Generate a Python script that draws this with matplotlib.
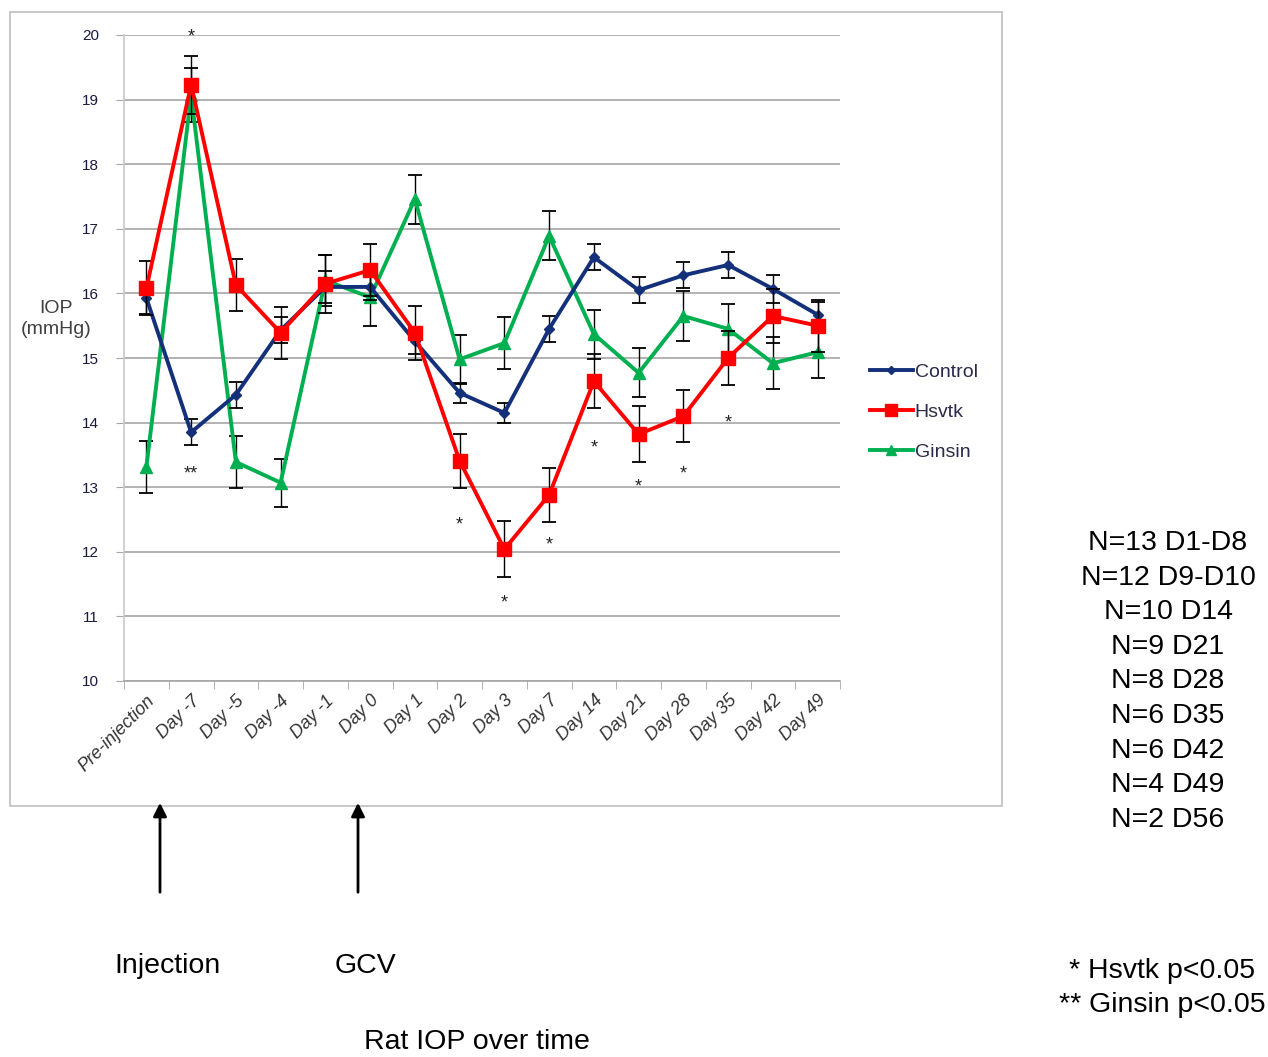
import matplotlib
matplotlib.use('Agg')
import matplotlib.pyplot as plt
from matplotlib.patches import Rectangle, FancyArrowPatch
from matplotlib.lines import Line2D
import numpy as np

# ---- data ----
days = ['Pre-injection', 'Day -7', 'Day -5', 'Day -4', 'Day -1', 'Day 0', 'Day 1', 'Day 2',
        'Day 3', 'Day 7', 'Day 14', 'Day 21', 'Day 28', 'Day 35', 'Day 42', 'Day 49']

control = [15.93, 13.85, 14.43, 15.43, 16.10, 16.10, 15.26, 14.46,
           14.15, 15.45, 16.56, 16.05, 16.28, 16.44, 16.07, 15.67]
control_err = [0.25, 0.2, 0.2, 0.2, 0.25, 0.2, 0.2, 0.15,
               0.15, 0.2, 0.2, 0.2, 0.2, 0.2, 0.22, 0.2]

hsvtk = [16.08, 19.23, 16.13, 15.39, 16.15, 16.36, 15.39, 13.41,
         12.04, 12.88, 14.64, 13.82, 14.10, 15.00, 15.65, 15.50]
hsvtk_err = [0.42, 0.45, 0.4, 0.4, 0.45, 0.4, 0.42, 0.42,
             0.43, 0.42, 0.42, 0.43, 0.4, 0.42, 0.42, 0.4]

ginsin = [13.31, 19.07, 13.39, 13.07, 16.20, 15.94, 17.46, 14.98,
          15.23, 16.89, 15.37, 14.77, 15.65, 15.45, 14.92, 15.09]
ginsin_err = [0.4, 0.42, 0.4, 0.37, 0.4, 0.45, 0.38, 0.38,
              0.4, 0.38, 0.38, 0.38, 0.38, 0.38, 0.4, 0.4]

# significance marks: (category index, y value, text)
stars = [(1, 19.97, '*'), (1, 13.2, '**'), (7, 12.42, '*'), (8, 11.2, '*'), (9, 12.1, '*'),
         (10, 13.6, '*'), (11, 13.0, '*'), (12, 13.2, '*'), (13, 14.0, '*')]

n_lines = ['N=13 D1-D8', 'N=12 D9-D10', 'N=10 D14', 'N=9 D21', 'N=8 D28',
           'N=6 D35', 'N=6 D42', 'N=4 D49', 'N=2 D56']

# ---- plotting ----
plt.rcParams['font.family'] = ['Liberation Sans', 'DejaVu Sans']

W, H = 1268, 1057
fig = plt.figure(figsize=(W / 100, H / 100), dpi=100)

# chart frame
fig.patches.append(Rectangle((10 / W, 1 - 806 / H), 992 / W, 794 / H, transform=fig.transFigure,
                             fill=False, edgecolor='#bfbfbf', linewidth=1.2))

ax = fig.add_axes([124 / W, 1 - 681 / H, 716 / W, 646 / H])
x = np.arange(len(days))

series = [('Control', control, control_err, '#14307a', 'D', 5.5, 3),
          ('Hsvtk', hsvtk, hsvtk_err, '#ff0000', 's', 10, 4),
          ('Ginsin', ginsin, ginsin_err, '#00b050', '^', 9, 2)]
handles = []
for name, vals, err, col, mk, ms, z in series:
    ax.errorbar(x, vals, yerr=err, color=col, marker=mk, markersize=ms, lw=2.8,
                ecolor='black', elinewidth=1.0, capsize=5, capthick=1.3, zorder=z)
    handles.append(Line2D([], [], color=col, marker=mk, markersize=ms * 0.8, lw=2.8, label=name))

for i, yv, s in stars:
    ax.text(i, yv, s, ha='center', va='center', fontsize=13, color='#222222')

ax.set_xlim(-0.5, len(days) - 0.5)
ax.set_ylim(10, 20)
ax.set_yticks(np.arange(10, 21, 1))
ax.yaxis.grid(True, color='#a6a6a6', lw=1.2)
ax.set_axisbelow(True)
ax.set_xticks(x)
ax.set_xticklabels(days, rotation=45, ha='right', rotation_mode='anchor',
                   fontsize=13, style='italic', color='#333333')
ax.tick_params(axis='x', which='major', length=0, pad=8)
ax.set_xticks(np.arange(-0.5, len(days), 1), minor=True)
ax.tick_params(axis='x', which='minor', length=6, color='#a6a6a6')
ax.tick_params(axis='y', length=6, color='#a6a6a6', labelsize=11, labelcolor='#1a1a40', pad=12)
for sp in ['top', 'right']:
    ax.spines[sp].set_visible(False)
ax.spines['left'].set_color('#c8c8c8')
ax.spines['bottom'].set_color('#a6a6a6')
ax.spines['left'].set_linewidth(1.2)
ax.spines['bottom'].set_linewidth(1.2)

fig.text(56 / W, 1 - 319 / H, 'IOP\n(mmHg)', ha='center', va='center',
         fontsize=14, color='#404040', linespacing=1.3)

fig.legend(handles=handles, loc='upper left', bbox_to_anchor=(870 / W, 1 - 363 / H),
           bbox_transform=fig.transFigure, frameon=False, borderpad=0, borderaxespad=0,
           fontsize=14, handlelength=2.2, handletextpad=0.1, labelspacing=1.15,
           labelcolor='#2a2a4a')

# arrows and annotations below chart
for xp in [160, 358]:
    fig.patches.append(FancyArrowPatch((xp / W, 1 - 895 / H), (xp / W, 1 - 800 / H),
                                       transform=fig.transFigure, arrowstyle='-|>',
                                       mutation_scale=20, lw=2, color='black'))
fig.text(167 / W, 1 - 966 / H, 'Injection', ha='center', va='center', fontsize=20.5)
fig.text(366 / W, 1 - 966 / H, 'GCV', ha='center', va='center', fontsize=20.5)
fig.text(477 / W, 1 - 1042 / H, 'Rat IOP over time', ha='center', va='center', fontsize=20.5)

for k, line in enumerate(n_lines):
    fig.text(1168 / W, 1 - (543 + k * 34.6) / H, line, ha='center', va='center', fontsize=20.5)
fig.text(1162 / W, 1 - 971 / H, '* Hsvtk p<0.05', ha='center', va='center', fontsize=20.5)
fig.text(1162 / W, 1 - 1005 / H, '** Ginsin p<0.05', ha='center', va='center', fontsize=20.5)

fig.savefig('out.png', dpi=100)
